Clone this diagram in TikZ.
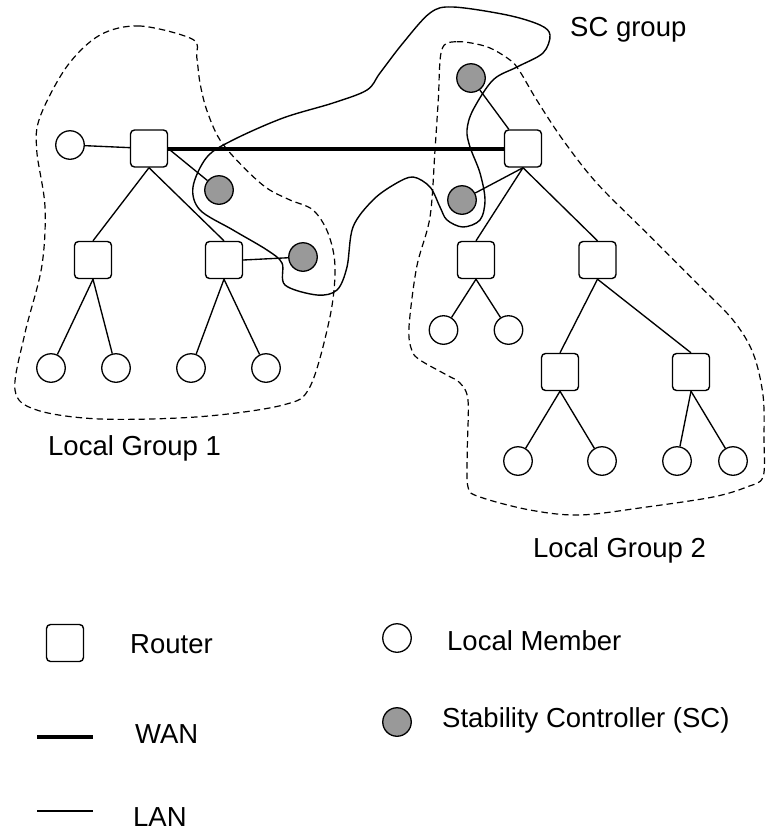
\documentclass[tikz,border=0pt]{standalone}
\usepackage{fontspec}
\setmainfont{Liberation Sans}
\definecolor{scgray}{RGB}{153,153,153}
\begin{document}
\begin{tikzpicture}[x=1pt,y=-1pt,
  router/.style={draw,line width=1.4pt,rounded corners=4pt,minimum size=37pt,inner sep=0pt,fill=white},
  member/.style={circle,draw,line width=1.3pt,minimum size=28.5pt,inner sep=0pt,fill=white},
  ctrl/.style={member,fill=scgray},
  lan/.style={line width=1.35pt},
  wan/.style={line width=4pt},
  grouprim/.style={dash pattern=on 6.5pt off 4pt,line width=1.2pt},
  scrim/.style={line width=1.4pt},
  txt/.style={font=\fontsize{27.5}{33}\selectfont,inner sep=0pt,anchor=base west}]
\useasboundingbox (0,0) rectangle (766,831);

% Local Group 1 boundary
\draw[grouprim] plot[smooth cycle,tension=0.55] coordinates {
  (192.7,39.3) (140,26) (100,35) (66.7,66.7) (40,117) (36.7,150) (45,207)
  (41.7,267) (25,333) (15,390) (36.7,410) (100,419) (200,416.7) (283,405)
  (310,386.7) (330,316.7) (335,266.7) (328,233) (313,210) (290,200)
  (266.7,188) (243,166.7) (220,140) (206.7,110) (200,83) (196.7,56.7)};

% Local Group 2 boundary
\draw[grouprim] plot[smooth cycle,tension=0.55] coordinates {
  (441.7,50) (456.7,41.7) (486.7,46.7) (510,60) (520,71.7) (536.7,100)
  (563,140) (596.7,183) (646.7,233) (696.7,283) (733,320) (753,353)
  (763,395) (764,440) (763,477) (746.7,487) (713,497) (646.7,507) (580,515)
  (530,510) (480,497) (468,487) (467.3,450) (468,400) (460,383) (446.7,375)
  (420,360) (411.7,350) (409,327) (416.7,267) (430,217) (435,150) (438.3,100)};

% SC group boundary
\draw[scrim] plot[smooth cycle,tension=0.55] coordinates {
  (453,7) (507,15) (540,25) (550,35) (543,53) (517,67) (493,80) (473,110)
  (467,130) (470,147) (480,173) (485,200) (480,220) (463,227) (447,220)
  (440,207) (430,187) (413,177) (395,184) (373,200) (353,227) (347,267)
  (337,290) (317,295) (285,285) (282,263) (267,250) (233,230) (200,210)
  (193,187) (207,157) (233,140) (283,118) (333,103) (367,90) (380,73)
  (403,43) (430,13)};

% Local group 1 nodes
\node[member] (m0) at (70,145) {};
\node[router] (r0) at (149,148.5) {};
\node[ctrl] (s1) at (219,190) {};
\node[router] (r1) at (93,260) {};
\node[router] (r2) at (224,260) {};
\node[ctrl] (s2) at (303,257) {};
\node[member] (l1) at (51,368) {};
\node[member] (l2) at (116,368) {};
\node[member] (l3) at (191,368) {};
\node[member] (l4) at (266,368) {};

% Local group 2 nodes
\node[router] (r3) at (523,148.5) {};
\node[ctrl] (s3) at (471,78) {};
\node[ctrl] (s4) at (462,200) {};
\node[router] (r4) at (476,260) {};
\node[router] (r5) at (597.5,260) {};
\node[member] (l5) at (443.5,330) {};
\node[member] (l6) at (508.5,330) {};
\node[router] (r6) at (560,372) {};
\node[router] (r7) at (691,372) {};
\node[member] (l7) at (518,461) {};
\node[member] (l8) at (602,461) {};
\node[member] (l9) at (677,461) {};
\node[member] (l10) at (733,461) {};

% LAN links
\draw[lan] (m0) -- (r0);
\draw[lan] (r0.east) -- (s1);
\draw[lan] (r0.south) -- (r1.north);
\draw[lan] (r0.south) -- (r2.north);
\draw[lan] (r1.south) -- (l1);
\draw[lan] (r1.south) -- (l2);
\draw[lan] (r2.south) -- (l3);
\draw[lan] (r2.south) -- (l4);
\draw[lan] (r2.east) -- (s2);
\draw[lan] (r3) -- (s3);
\draw[lan] (r3.south) -- (s4);
\draw[lan] (r3.south) -- (r4.north);
\draw[lan] (r3.south) -- (r5.north);
\draw[lan] (r4.south) -- (l5);
\draw[lan] (r4.south) -- (l6);
\draw[lan] (r5.south) -- (r6.north);
\draw[lan] (r5.south) -- (r7.north);
\draw[lan] (r6.south) -- (l7);
\draw[lan] (r6.south) -- (l8);
\draw[lan] (r7.south) -- (l9);
\draw[lan] (r7.south) -- (l10);

% WAN link
\draw[wan] (r0.east) -- (r3.west);

% Group captions
\node[txt] (capsc) at (570,36.5) {SC group};
\node[txt] (capg1) at (48,455.5) {Local Group 1};
\node[txt] (capg2) at (533,557.5) {Local Group 2};

% Legend
\node[router] (keyrouter) at (65,643) {};
\node[txt] (keyroutertxt) at (130,653.5) {Router};
\node[member] (keymember) at (397,638) {};
\node[txt] (keymembertxt) at (447,650) {Local Member};
\node[ctrl] (keyctrl) at (397,722) {};
\node[txt] (keyctrltxt) at (442,727) {Stability Controller (SC)};
\coordinate (wanA) at (37,737);
\coordinate (wanB) at (93,737);
\draw[wan] (wanA) -- (wanB);
\node[txt] (keywantxt) at (135,743) {WAN};
\coordinate (lanA) at (37,811);
\coordinate (lanB) at (93,811);
\draw[lan] (lanA) -- (lanB);
\node[txt] (keylantxt) at (133,826) {LAN};
\end{tikzpicture}
\end{document}
